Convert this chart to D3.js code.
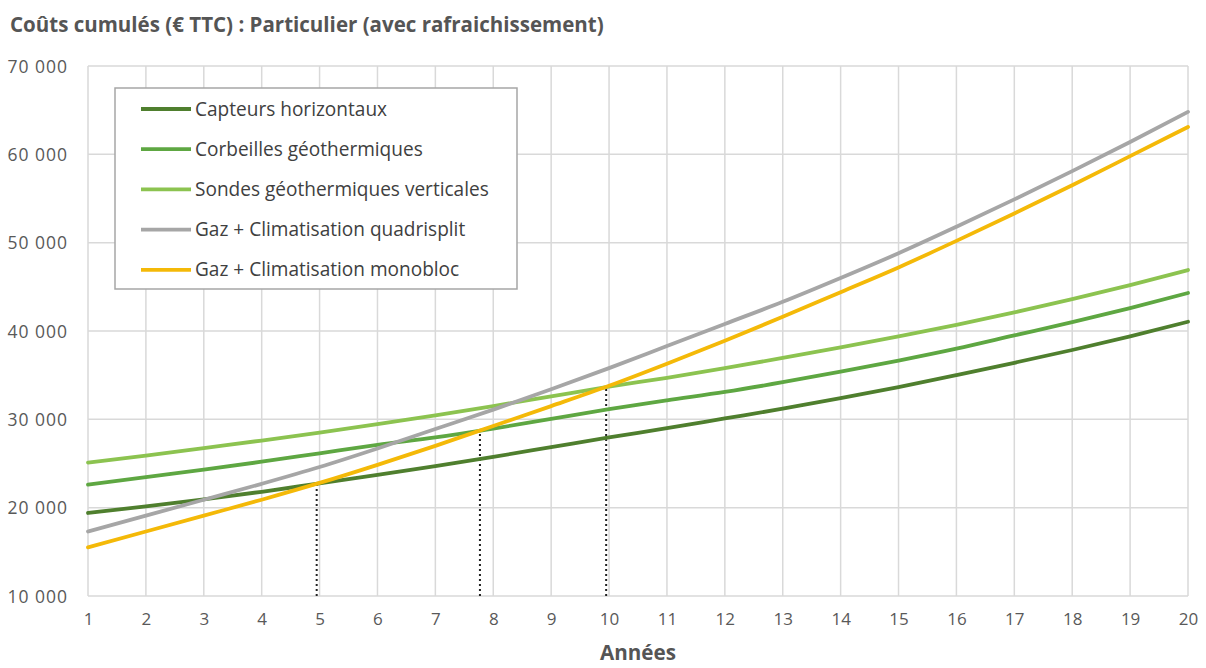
<!DOCTYPE html>
<html>
<head>
<meta charset="utf-8">
<script src="https://cdn.jsdelivr.net/npm/d3@7"></script>
<style>
  html, body { margin: 0; padding: 0; background: #fff; }
  svg { display: block; font-family: "Open Sans", Lato, sans-serif; }
</style>
</head>
<body>
<svg id="chart" width="1206" height="668"></svg>
<script>
// Cumulative costs (€ incl. VAT) per year for each heating/cooling solution
const years = d3.range(1, 21);
const capteursHorizontaux = [19400, 20150, 20950, 21800, 22750, 23700, 24700, 25750, 26850, 27950,
                             29000, 30100, 31200, 32400, 33650, 35000, 36400, 37850, 39400, 41050];
const corbeillesGeo      = [22600, 23450, 24300, 25200, 26150, 27100, 27950, 28950, 30050, 31150,
                             32150, 33100, 34200, 35400, 36650, 38000, 39500, 41000, 42600, 44300];
const sondesVerticales   = [25100, 25900, 26750, 27600, 28500, 29450, 30450, 31500, 32600, 33700,
                             34700, 35800, 36950, 38150, 39400, 40700, 42100, 43600, 45200, 46900];
const gazQuadrisplit     = [17300, 19100, 20900, 22700, 24600, 26700, 28900, 31100, 33400, 35800,
                             38300, 40800, 43300, 46000, 48800, 51800, 54900, 58100, 61400, 64800];
const gazMonobloc        = [15500, 17300, 19100, 20900, 22800, 24850, 27000, 29250, 31500, 33800,
                             36300, 38900, 41600, 44400, 47200, 50200, 53300, 56500, 59800, 63100];

const seriesNames = ["Capteurs horizontaux", "Corbeilles géothermiques", "Sondes géothermiques verticales",
                     "Gaz + Climatisation quadrisplit", "Gaz + Climatisation monobloc"];
const seriesValues = [capteursHorizontaux, corbeillesGeo, sondesVerticales, gazQuadrisplit, gazMonobloc];
const seriesColors = ["#4f7f2e", "#5ea742", "#8cc350", "#a6a6a6", "#f4b908"];

// Break-even markers: year of each crossing (monobloc vs each geothermal solution)
const breakEvenYears = [4.95, 7.77, 9.95];

const yTicks = [10000, 20000, 30000, 40000, 50000, 60000, 70000];

const svg = d3.select("#chart");
const plot = { left: 88, right: 1188, top: 66, bottom: 596 };

const x = d3.scaleLinear().domain([1, 20]).range([plot.left, plot.right]);
const y = d3.scaleLinear().domain([10000, 70000]).range([plot.bottom, plot.top]);

const fmt = v => d3.format(",")(v).replace(/,/g, " ");

// Scale a text element's font size so that it spans the given width
function fitWidth(sel, width) {
  const node = sel.node();
  const size = parseFloat(sel.attr("font-size"));
  const w = node.getComputedTextLength();
  if (w > 0) sel.attr("font-size", (size * width / w).toFixed(2));
}

// Title
const title = svg.append("text")
  .attr("x", 10).attr("y", 32)
  .attr("font-size", 18).attr("font-weight", "bold").attr("fill", "#555")
  .text("Coûts cumulés (€ TTC) : Particulier (avec rafraichissement)");
fitWidth(title, 594);

// Grid
const grid = svg.append("g").attr("stroke", "#d9d9d9").attr("stroke-width", 1.5);
grid.selectAll("line.h").data(yTicks).join("line")
  .attr("x1", plot.left).attr("x2", plot.right)
  .attr("y1", d => y(d)).attr("y2", d => y(d));
grid.selectAll("line.v").data(years).join("line")
  .attr("x1", d => x(d)).attr("x2", d => x(d))
  .attr("y1", plot.top).attr("y2", plot.bottom);

// Axes (labels only; grid supplies the lines)
const yAxis = svg.append("g")
  .attr("transform", `translate(${plot.left - 20},0)`)
  .call(d3.axisLeft(y).tickValues(yTicks).tickFormat(fmt).tickSize(0).tickPadding(0));
yAxis.select(".domain").remove();
yAxis.selectAll("text").attr("font-size", 17.5).attr("fill", "#595959")
  .attr("letter-spacing", 1)
  .attr("font-family", "'Open Sans', sans-serif").attr("dy", "0.35em");

const xAxis = svg.append("g")
  .attr("transform", `translate(0,${plot.bottom + 14})`)
  .call(d3.axisBottom(x).tickValues(years).tickFormat(d3.format("d")).tickSize(0));
xAxis.select(".domain").remove();
xAxis.selectAll("text").attr("font-size", 17).attr("fill", "#595959")
  .attr("font-family", "'Open Sans', sans-serif");

const xTitle = svg.append("text")
  .attr("x", (plot.left + plot.right) / 2).attr("y", 660)
  .attr("text-anchor", "middle")
  .attr("font-size", 18).attr("font-weight", "bold").attr("fill", "#555")
  .text("Années");
fitWidth(xTitle, 76);

// Break-even dotted markers, from the axis up to the monobloc curve
const monoAt = t => {
  const i = Math.min(Math.floor(t) - 1, gazMonobloc.length - 2);
  const f = t - (i + 1);
  return gazMonobloc[i] + f * (gazMonobloc[i + 1] - gazMonobloc[i]);
};
svg.append("g").selectAll("line").data(breakEvenYears).join("line")
  .attr("x1", d => x(d)).attr("x2", d => x(d))
  .attr("y1", plot.bottom).attr("y2", d => y(monoAt(d)))
  .attr("stroke", "#222").attr("stroke-width", 2)
  .attr("stroke-dasharray", "2,3");

// Series lines
const line = d3.line().x((d, i) => x(years[i])).y(d => y(d)).curve(d3.curveMonotoneX);
svg.append("g").selectAll("path").data(seriesValues).join("path")
  .attr("d", d => line(d))
  .attr("fill", "none")
  .attr("stroke", (d, i) => seriesColors[i])
  .attr("stroke-width", 3.8)
  .attr("stroke-linecap", "round");

// Legend
const legend = svg.append("g");
legend.append("rect")
  .attr("x", 115).attr("y", 88).attr("width", 402).attr("height", 201)
  .attr("fill", "#fff").attr("stroke", "#a6a6a6").attr("stroke-width", 1.5);
const items = legend.selectAll("g.item").data(seriesNames).join("g")
  .attr("transform", (d, i) => `translate(0,${109 + i * 40.2})`);
items.append("line")
  .attr("x1", 141).attr("x2", 191).attr("y1", 0).attr("y2", 0)
  .attr("stroke", (d, i) => seriesColors[i]).attr("stroke-width", 3.8);
const labels = items.append("text")
  .attr("x", 195).attr("y", 0).attr("dy", "0.35em")
  .attr("font-size", 16).attr("fill", "#404040")
  .text(d => d);
// common size, chosen so the longest label spans its measured width
const longest = labels.filter(d => d === "Sondes géothermiques verticales");
fitWidth(longest, 294);
labels.attr("font-size", longest.attr("font-size"));
</script>
</body>
</html>
